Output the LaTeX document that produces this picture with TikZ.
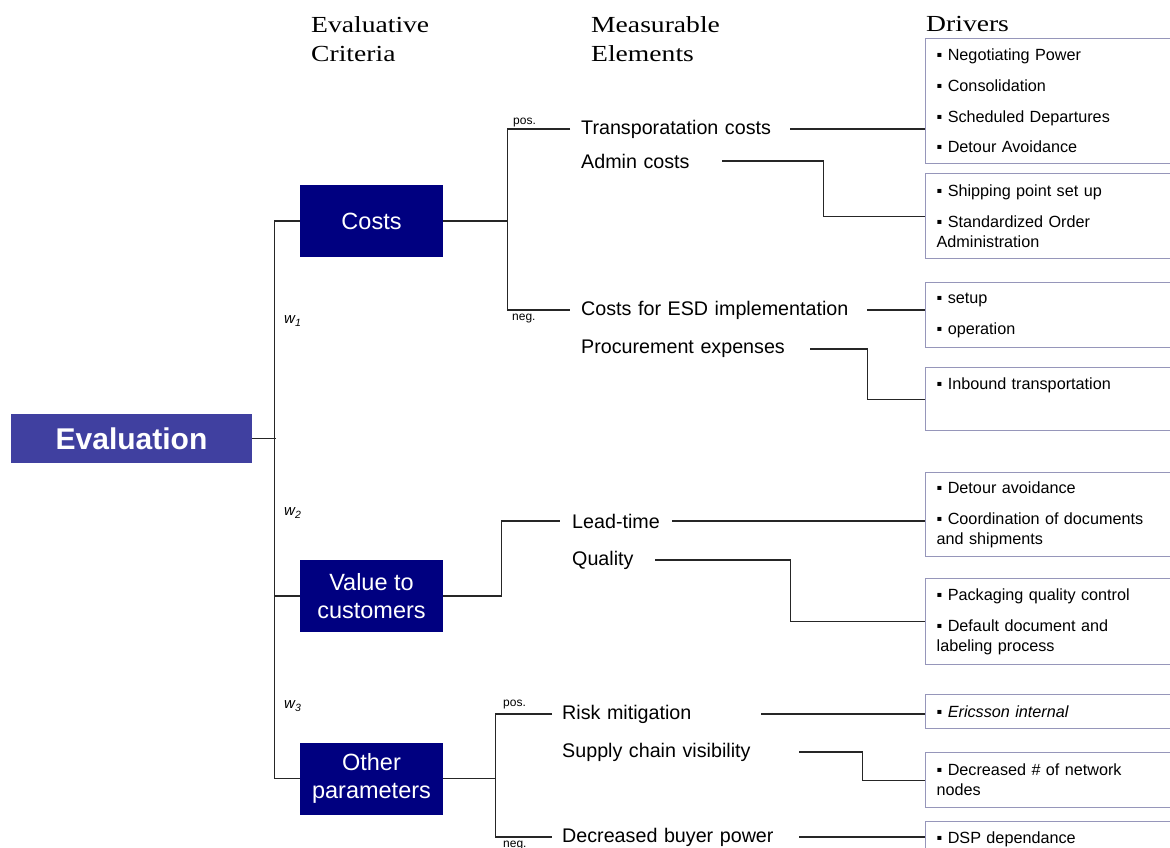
\documentclass[tikz,border=0pt]{standalone}
\usepackage{fontspec}
\setmainfont{Liberation Sans}
\newfontfamily\headfont{Liberation Serif}[FakeStretch=1.2]
\usetikzlibrary{positioning}

\definecolor{evalblue}{RGB}{64,64,160}
\definecolor{critblue}{RGB}{0,0,128}
\definecolor{drvline}{RGB}{150,150,186}

\begin{document}
\begin{tikzpicture}[x=1pt,y=-1pt]

\tikzset{
  evalbox/.style={fill=evalblue, text=white, minimum width=241pt, minimum height=49pt, inner sep=0pt,
    font=\fontsize{30}{34}\selectfont\bfseries},
  crit/.style={fill=critblue, text=white, minimum width=143pt, minimum height=72pt, inner sep=0pt,
    align=center, font=\fontsize{23.5}{28.5}\selectfont},
  head/.style={anchor=base west, inner sep=0pt, align=left, font=\headfont\fontsize{23}{29}\selectfont},
  elem/.style={anchor=west, inner sep=0pt, align=left, font=\fontsize{19.7}{22}\selectfont},
  drv/.style={draw=drvline, line width=1.3pt, anchor=north west, text width=225pt, inner xsep=11pt,
    inner ysep=0pt, align=left, font=\fontsize{16.2}{20}\selectfont},
  tag/.style={inner sep=0pt, font=\fontsize{12}{13}\selectfont},
  wlab/.style={anchor=west, inner sep=0pt, font=\fontsize{15}{16}\selectfont\itshape},
  conn/.style={draw=black!85, line width=1.3pt}
}

\useasboundingbox (0,0) rectangle (1170,848);
\fill[white] (0,0) rectangle (1170,848);

% column heads
\node[head] (hcrit) at (311,62) {Evaluative\\Criteria};
\node[head] (helem) at (591,62) {Measurable\\Elements};
\node[head] (hdrv) at (926,32) {Drivers};

% root and criteria
\node[evalbox] (eval) at (131.5,438.5) {Evaluation};
\node[crit] (costs) at (371.5,221) {Costs};
\node[crit] (value) at (371.5,596) {Value to\\customers};
\node[crit] (other) at (371.5,778.5) {Other\\parameters};

\node[wlab] (w1) at (284,321) {w\textsubscript{1}};
\node[wlab] (w2) at (284,513) {w\textsubscript{2}};
\node[wlab] (w3) at (284,706) {w\textsubscript{3}};

% measurable elements
\node[elem, text width=209pt] (tc) at (581,129) {Transporatation costs};
\node[elem, text width=141pt] (ac) at (581,161) {Admin costs};
\node[elem, text width=286pt] (esd) at (581,310) {Costs for ESD implementation};
\node[elem, text width=229pt] (pe) at (581,349) {Procurement expenses};
\node[elem, text width=100pt] (lt) at (572,521) {Lead-time};
\node[elem, text width=83pt] (ql) at (572,560) {Quality};
\node[elem, text width=199pt] (rm) at (562,714) {Risk mitigation};
\node[elem, text width=237pt] (sc) at (562,752) {Supply chain visibility};
\node[elem, text width=237pt] (db) at (562,837) {Decreased buyer power};

\node[tag, anchor=south west] (pos1) at (513,127) {pos.};
\node[tag, anchor=north west] (neg1) at (512,314) {neg.};
\node[tag, anchor=south west] (pos3) at (503,709) {pos.};
\node[tag, anchor=north west] (neg3) at (503,841) {neg.};

% drivers
\node[drv, minimum height=125pt] (d1) at (925,38) {▪ Negotiating Power\\[10.7pt]▪ Consolidation\\[10.7pt]▪ Scheduled Departures\\[10.7pt]▪ Detour Avoidance};
\node[drv, minimum height=85pt] (d2) at (925,173) {▪ Shipping point set up\\[10.7pt]▪ Standardized Order\\Administration};
\node[drv, minimum height=65pt] (d3) at (925,282) {▪ setup\\[10.7pt]▪ operation};
\node[drv, minimum height=63pt] (d4) at (925,367) {▪ Inbound transportation\\[10.7pt]\mbox{}};
\node[drv, minimum height=84pt] (d5) at (925,472) {▪ Detour avoidance\\[10.7pt]▪ Coordination of documents\\and shipments};
\node[drv, minimum height=86pt] (d6) at (925,578) {▪ Packaging quality control\\[10.7pt]▪ Default document and\\labeling process};
\node[drv, minimum height=34pt] (d7) at (925,694) {▪ \textit{Ericsson internal}};
\node[drv, minimum height=55pt] (d8) at (925,752) {▪ Decreased \# of network\\nodes};
\node[drv, minimum height=36pt] (d9) at (925,821) {▪ DSP dependance};

% tree
\draw[conn] (eval.east) -- ++(23.5,0);
\draw[conn] (costs.west) -- ++(-25,0) |- (other.west);
\draw[conn] (value.west) -- ++(-25,0);

\draw[conn] (costs.east) -- ++(64,0) coordinate (cj);
\draw[conn] ([xshift=-11pt]tc.west) -| (cj) |- ([xshift=-11pt]esd.west);
\draw[conn] (value.east) -- ++(58,0) |- ([xshift=-12pt]lt.west);
\draw[conn] (other.east) -- ++(52,0) coordinate (oj);
\draw[conn] ([xshift=-10pt]rm.west) -| (oj) |- ([xshift=-10pt]db.west);

% elements to drivers
\draw[conn] (tc.east) -- (tc.east -| d1.west);
\draw[conn] (ac.east) -- ++(101,0) |- (d2.west);
\draw[conn] (esd.east) -- (esd.east -| d3.west);
\draw[conn] (pe.east) -- ++(57,0) |- (d4.west);
\draw[conn] (lt.east) -- (lt.east -| d5.west);
\draw[conn] (ql.east) -- ++(135,0) |- (d6.west);
\draw[conn] (rm.east) -- (rm.east -| d7.west);
\draw[conn] (sc.east) -- ++(63,0) |- (d8.west);
\draw[conn] (db.east) -- (db.east -| d9.west);

\end{tikzpicture}
\end{document}
